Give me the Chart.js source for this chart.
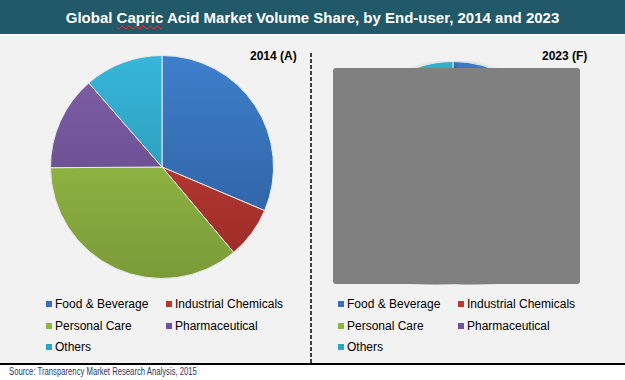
<!DOCTYPE html>
<html lang="en">
<head>
	<meta charset="UTF-8">
	<title>Global Capric Acid Market Volume Share</title>
	<script src="https://cdn.jsdelivr.net/npm/chart.js"></script>
	<style>
		body { margin: 0; width: 625px; height: 380px; background: #fff; font-family: "Liberation Sans", Arial, sans-serif; position: relative; overflow: hidden; }
		.titlebar { position: absolute; left: 0; top: 0; width: 625px; height: 34px; background: #215968; color: #fff; font-weight: bold; font-size: 15px; text-align: center; line-height: 35px; }
		.squiggle { text-decoration: underline wavy #ff2a2a; text-decoration-thickness: 1px; text-underline-offset: 2px; text-decoration-skip-ink: none; }
		.panel { position: absolute; left: 0; top: 36px; width: 625px; height: 327px; background: #f2f2f2; }
		.rule { position: absolute; left: 0; top: 363px; width: 625px; height: 2px; background: #000; }
		.divider { position: absolute; left: 310px; top: 53px; width: 2px; height: 310px; background: repeating-linear-gradient(to bottom, #404040 0 4px, transparent 4px 6px); }
		.year { position: absolute; font-weight: bold; font-size: 12px; color: #000; }
		canvas { position: absolute; }
		.legend { position: absolute; font-size: 12px; color: #000; }
		.legend span { position: absolute; white-space: nowrap; line-height: 14px; }
		.legend i { display: inline-block; width: 6px; height: 6px; margin-right: 3px; vertical-align: 1px; }
		.mask { position: absolute; left: 333px; top: 68px; width: 247px; height: 216px; background: #808080; border-radius: 3px; }
		.source { position: absolute; left: 9px; top: 366px; font-size: 10px; color: #1f3864; white-space: nowrap; transform: scaleX(0.77); transform-origin: left top; }
	</style>
</head>
<body>
	<div class="titlebar">Global <span class="squiggle">Capric</span> Acid Market Volume Share, by End-user, 2014 and 2023</div>
	<div class="panel"></div>
	<div class="divider"></div>
	<div class="year" style="left:250px; top:49px;">2014 (A)</div>
	<div class="year" style="left:542px; top:49px;">2023 (F)</div>
	<canvas id="pie2014" width="224" height="224" style="left:50px; top:55px;"></canvas>
	<canvas id="pie2023" width="224" height="224" style="left:341px; top:61px;"></canvas>
	<div class="mask"></div>
	<div class="legend" id="legend2014"></div>
	<div class="legend" id="legend2023"></div>
	<div class="rule"></div>
	<div class="source">Source: Transparency Market Research Analysis, 2015</div>
	<script>
	// end-user segments, clockwise from 12 o'clock
	const categories = ['Food & Beverage', 'Industrial Chemicals', 'Personal Care', 'Pharmaceutical', 'Others'];
	// volume share (%)
	const share2014 = [31.4, 7.5, 36.0, 13.7, 11.4];
	// 2023 pie is mostly hidden, rough guess from the visible edges
	const share2023 = [33.0, 7.5, 36.5, 12.0, 11.0];

	const topColors = ['#3e7fcc', '#cc433c', '#a1c94c', '#8060a9', '#36b6d9'];
	const bottomColors = ['#2c5b98', '#982a26', '#7a9a38', '#5d4480', '#298ca6'];
	const legendColors = ['#3a6eb5', '#b9382f', '#8db340', '#6f529a', '#2ea5c6'];

	// left offsets of the two legend columns for each pie
	function buildLegend(id, left) {
		const el = document.getElementById(id);
		const rows = [297, 319, 340];
		categories.forEach((name, i) => {
			const s = document.createElement('span');
			s.style.left = (left + (i % 2) * 120) + 'px';
			s.style.top = rows[Math.floor(i / 2)] + 'px';
			s.innerHTML = `<i style="background:${legendColors[i]}"></i>${name.replace('&', '&amp;')}`;
			el.appendChild(s);
		});
	}

	function sliceFill(context) {
		const chart = context.chart;
		const area = chart.chartArea;
		const i = context.dataIndex;
		if(!area) return topColors[i];
		const g = chart.ctx.createLinearGradient(0, area.top, 0, area.bottom);
		g.addColorStop(0, topColors[i]);
		g.addColorStop(1, bottomColors[i]);
		return g;
	}

	function makePie(id, values, shadow) {
		const ctx = document.getElementById(id).getContext('2d');
		return new Chart(ctx, {
			type: 'pie',
			data: {
				labels: categories,
				datasets: [{
					data: values,
					backgroundColor: sliceFill,
					borderColor: '#e8e8e8',
					borderWidth: 1
				}]
			},
			options: {
				responsive: false,
				animation: false,
				layout: { padding: 0 },
				plugins: {
					legend: { display: false },
					tooltip: { enabled: false }
				}
			},
			plugins: shadow ? [{
				id: 'pieShadow',
				beforeDatasetsDraw(chart) {
					chart.ctx.save();
					chart.ctx.shadowColor = 'rgba(0,0,0,0.35)';
					chart.ctx.shadowBlur = 6;
					chart.ctx.shadowOffsetY = 3;
				},
				afterDatasetsDraw(chart) {
					chart.ctx.restore();
				}
			}] : []
		});
	}

	makePie('pie2014', share2014, false);
	makePie('pie2023', share2023, true);
	buildLegend('legend2014', 46);
	buildLegend('legend2023', 338);
	</script>
</body>
</html>
